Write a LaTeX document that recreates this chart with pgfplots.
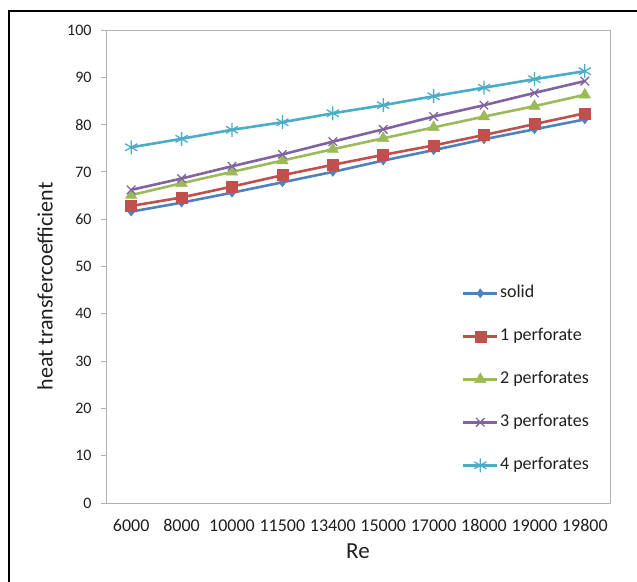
\documentclass[border=0pt]{standalone}
\usepackage{pgfplots}
\pgfplotsset{compat=1.18}
\usepackage{fontspec}
\setmainfont{Carlito}
\definecolor{cBlue}{HTML}{4F81BD}
\definecolor{cRed}{HTML}{C0504D}
\definecolor{cGreen}{HTML}{9BBB59}
\definecolor{cPurple}{HTML}{8064A2}
\definecolor{cCyan}{HTML}{4BACC6}
\definecolor{cAxis}{HTML}{B0B0B0}
\definecolor{cText}{HTML}{1F1F1F}
\begin{document}
\begin{tikzpicture}
\useasboundingbox (0bp,0bp) rectangle (637bp,-582bp);
\draw[line width=2bp,black] (9bp,-11bp) rectangle (700bp,-700bp);
\begin{axis}[
  at={(106bp,-503bp)}, anchor=south west,
  scale only axis, width=504bp, height=473bp,
  xmin=-0.5, xmax=9.5, ymin=0, ymax=100,
  xtick={0,...,9},
  xticklabels={6000,8000,10000,11500,13400,15000,17000,18000,19000,19800},
  ytick={0,10,...,100},
  /pgf/number format/assume math mode=true,
  axis line style={cAxis, line width=1bp},
  x tick style={draw=none},
  y tick style={cAxis, line width=1bp},
  major tick length=5bp,
  tick align=outside,
  xtick pos=bottom, ytick pos=left,
  xticklabel style={font=\fontsize{18bp}{20bp}\selectfont, text=cText, yshift=-8bp},
  yticklabel style={font=\fontsize{16bp}{18bp}\selectfont, text=cText, xshift=-6bp},
  xlabel={Re}, ylabel={heat transfercoefficient},
  every axis x label/.style={at={(axis description cs:0.5,-0.1015)}, anchor=center, font=\fontsize{23bp}{25bp}\selectfont, text=cText},
  every axis y label/.style={at={(axis description cs:-0.121,0.458)}, rotate=90, anchor=center, font=\fontsize{22bp}{24bp}\selectfont, text=cText},
  every axis plot/.append style={line width=2.6bp},
  legend style={at={(axis description cs:0.700,0.468)}, anchor=north west, draw=none, fill=none,
    font=\fontsize{18bp}{20bp}\selectfont, text=cText, row sep=24bp,
    nodes={text height=12bp, text depth=4bp, inner sep=1.5bp}},
  legend cell align=left,
  legend image code/.code={\draw[mark repeat=2,mark phase=2] plot coordinates {(0bp,0bp) (17bp,0bp) (34bp,0bp)};},
]
\addplot[cBlue, mark=diamond*, mark size=4.5bp, mark options={solid,fill=cBlue,line width=0.5bp}] coordinates {
(0,61.6)(1,63.5)(2,65.6)(3,67.8)(4,70.0)(5,72.4)(6,74.6)(7,76.9)(8,79.0)(9,81.1)};
\addlegendentry{solid}
\addplot[cRed, mark=square*, mark size=5.5bp, mark options={solid,fill=cRed,line width=0.5bp}] coordinates {
(0,62.8)(1,64.6)(2,66.9)(3,69.3)(4,71.5)(5,73.6)(6,75.6)(7,77.8)(8,80.1)(9,82.4)};
\addlegendentry{1 perforate}
\addplot[cGreen, mark=triangle*, mark size=6.5bp, mark options={solid,fill=cGreen,line width=0.5bp}] coordinates {
(0,65.1)(1,67.6)(2,70.0)(3,72.4)(4,74.8)(5,77.1)(6,79.4)(7,81.7)(8,83.9)(9,86.3)};
\addlegendentry{2 perforates}
\addplot[cPurple, mark=x, mark size=6bp, mark options={solid,line width=1.3bp}] coordinates {
(0,66.2)(1,68.6)(2,71.2)(3,73.7)(4,76.4)(5,79.0)(6,81.7)(7,84.1)(8,86.7)(9,89.2)};
\addlegendentry{3 perforates}
\addplot[cCyan, mark=asterisk, mark size=7bp, mark options={solid,line width=1.3bp}] coordinates {
(0,75.2)(1,77.0)(2,78.9)(3,80.5)(4,82.4)(5,84.1)(6,86.0)(7,87.8)(8,89.6)(9,91.3)};
\addlegendentry{4 perforates}
\end{axis}
\end{tikzpicture}
\end{document}
